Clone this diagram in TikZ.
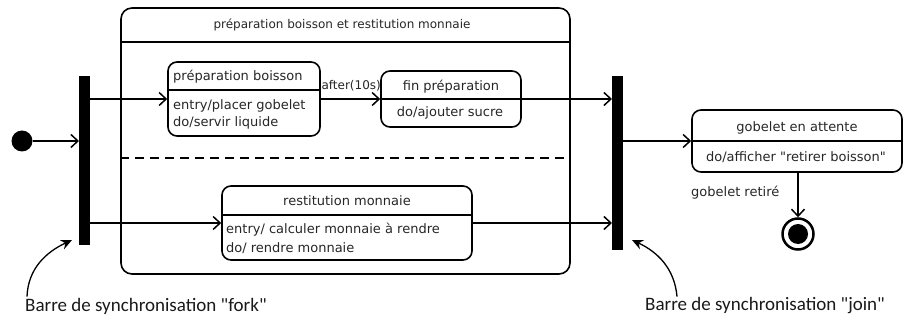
\documentclass[tikz,border=0pt]{standalone}
\usepackage{fontspec}
\newfontfamily\umlfont{DejaVu Sans}
\newfontfamily\notefont{Carlito}
\usetikzlibrary{arrows.meta,positioning,calc}

\begin{document}
\begin{tikzpicture}[x=1pt, y=-1pt,
    statebox/.style={draw, line width=1.6pt, rounded corners=9pt, inner sep=0pt},
    syncbar/.style={fill=black, minimum width=11pt, inner sep=0pt, outer sep=0pt},
    txt/.style={font=\umlfont\fontsize{13}{15}\selectfont, text=black!85, inner sep=1pt},
    smalltxt/.style={txt, font=\umlfont\fontsize{12}{14}\selectfont},
    note/.style={font=\notefont\fontsize{19}{22}\selectfont, text=black!90, inner sep=0pt},
    trans/.style={line width=1.5pt, -{Straight Barb[length=7pt,width=13pt,line width=1.5pt]}},
    notearrow/.style={line width=1.3pt, -{Stealth[length=11pt,width=10pt]}}]
  \useasboundingbox (0,0) rectangle (904,320);
  % etat composite
  \node[statebox, rounded corners=11pt, minimum width=449pt, minimum height=266pt] (comp) at (345.5,141) {};
  \draw[line width=1.6pt] (comp.west |- 0,42) -- (comp.east |- 0,42);
  \draw[line width=2pt, dash pattern=on 9pt off 6pt] (comp.west |- 0,158) -- (comp.east |- 0,158);
  \node[smalltxt] (comptitle) at (342,25) {préparation boisson et restitution monnaie};
  % barres fork / join
  \node[syncbar, minimum height=169pt] (fork) at (84.5,160.5) {};
  \node[syncbar, minimum height=174pt] (join) at (617.5,163) {};
  % pseudo-etats
  \node[circle, fill=black, minimum size=21pt, inner sep=0pt] (init) at (22,141) {};
  \node[circle, draw, line width=2.5pt, minimum size=31pt, inner sep=0pt] (final) at (798,234) {};
  \node[circle, fill=black, minimum size=20pt, inner sep=0pt] (finaldot) at (final) {};
  % etats simples
  \node[statebox, minimum width=152pt, minimum height=74pt] (prep) at (244,99) {};
  \draw[line width=1.6pt] (prep.west |- 0,90) -- (prep.east |- 0,90);
  \node[txt, anchor=west] (prepname) at (172,77) {préparation boisson};
  \node[txt, anchor=west] (prepentry) at (172,106) {entry/placer gobelet};
  \node[txt, anchor=west] (prepdo) at (172,123) {do/servir liquide};
  \node[statebox, minimum width=140pt, minimum height=56pt] (fin) at (451,99) {};
  \draw[line width=1.6pt] (fin.west |- 0,99) -- (fin.east |- 0,99);
  \node[txt] (finname) at (451,87) {fin préparation};
  \node[txt] (findo) at (450,113) {do/ajouter sucre};
  \node[statebox, minimum width=250pt, minimum height=74pt] (restit) at (347,223) {};
  \draw[line width=1.6pt] (restit.west |- 0,215) -- (restit.east |- 0,215);
  \node[txt] (restitname) at (347,201) {restitution monnaie};
  \node[txt, anchor=west] (restitentry) at (225,230) {entry/ calculer monnaie à rendre};
  \node[txt, anchor=west] (restitdo) at (225,248) {do/ rendre monnaie};
  \node[statebox, minimum width=210pt, minimum height=62pt] (gob) at (797,141) {};
  \draw[line width=1.6pt] (gob.west |- 0,141) -- (gob.east |- 0,141);
  \node[txt] (gobname) at (797,128) {gobelet en attente};
  \node[txt] (gobdo) at (796,157) {do/afficher "retirer boisson"};
  % transitions
  \draw[trans] (init) -- (init -| fork.west);
  \draw[trans] (fork.east |- prep.west) -- (prep.west);
  \draw[trans] (fork.east |- restit.west) -- (restit.west);
  \draw[trans] (prep.east) -- node[smalltxt, pos=0, anchor=south west, inner sep=0pt, yshift=7pt] (aftertxt) {after(10s)} (fin.west);
  \draw[trans] (fin.east) -- (fin.east -| join.west);
  \draw[trans] (restit.east) -- (restit.east -| join.west);
  \draw[trans] (join.east |- gob.west) -- (gob.west);
  \draw[trans] (gob.south -| final) -- (final.north);
  \node[txt, anchor=west] (retire) at (690,193) {gobelet retiré};
  % commentaires
  \node[note, anchor=west] (forknote) at (25,306) {Barre de synchronisation "fork"};
  \node[note, anchor=west] (joinnote) at (645,306) {Barre de synchronisation "join"};
  \draw[notearrow] ([xshift=2pt, yshift=1pt]forknote.north west) to[out=88, in=205] ([xshift=-7pt, yshift=5pt]fork.south west);
  \draw[notearrow] ([xshift=32pt, yshift=1pt]joinnote.north west) to[out=95, in=-25] ([xshift=9pt, yshift=10pt]join.south east);
\end{tikzpicture}
\end{document}
